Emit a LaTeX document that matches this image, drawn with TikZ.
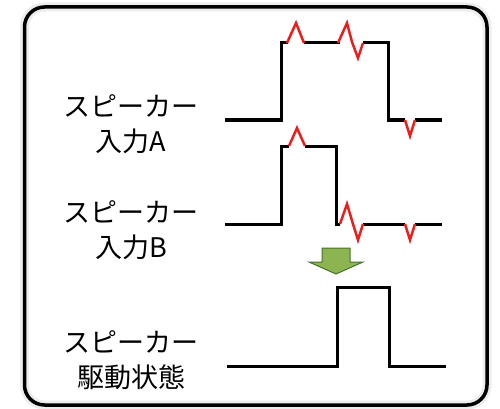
\documentclass[tikz,border=0pt]{standalone}
\usepackage{fontspec}
\newfontfamily\jpfont{Noto Sans CJK JP}
\definecolor{arrowfill}{RGB}{140,180,80}
\definecolor{arrowedge}{RGB}{70,115,45}
\definecolor{glitch}{RGB}{235,30,30}
\tikzset{
  label/.style={font=\jpfont\fontsize{27}{35}\selectfont, align=center, inner sep=0pt},
  wave/.style={line width=3pt, black, line join=miter},
  spike/.style={line width=2.5pt, glitch, line join=miter},
  frame/.style={line width=3.5pt, rounded corners=20pt},
  glow/.style={line width=9pt, rounded corners=20pt, black!7},
  downarrow/.style={fill=arrowfill, draw=arrowedge, line width=1pt}
}
\begin{document}
\begin{tikzpicture}[x=1pt,y=-1pt]
\useasboundingbox (0,0) rectangle (500,409);
\fill[white] (0,0) rectangle (500,409);
% frame with soft shadow
\draw[glow] (24.5,7) rectangle (487,405);
\draw[frame] (24.5,7) rectangle (487,405);

% labels
\node[label] (la) at (131,124.5) {スピーカー\\入力A};
\node[label] (lb) at (131,230) {スピーカー\\入力B};
\node[label] (lc) at (131,360.5) {スピーカー\\駆動状態};

% waveform A
\draw[wave] (225,120) -- (281,120) -- (281,43) -- (288,43);
\draw[wave] (304,43) -- (340,43);
\draw[wave] (363,43) -- (388,43) -- (388,120) -- (405,120);
\draw[wave] (415,120) -- (442,120);
\draw[spike] (287,43) -- (296,23) -- (304,43);
\draw[spike] (338,43) -- (347,23) -- (352,42) -- (358,58) -- (363,43);
\draw[spike] (405,120) -- (410,136) -- (415,120);

% waveform B
\draw[wave] (225,224) -- (281,224) -- (281,146) -- (289,146);
\draw[wave] (305,146) -- (336,146) -- (336,224) -- (340,224);
\draw[wave] (363,224) -- (405,224);
\draw[wave] (415,224) -- (442,224);
\draw[spike] (289,146) -- (297,128) -- (305,146);
\draw[spike] (340,224) -- (347,204) -- (353,224) -- (358,240) -- (363,224);
\draw[spike] (405,224) -- (410,240) -- (415,224);

% arrow
\draw[downarrow] (322,248) -- (350,248) -- (350,262) -- (363,262) -- (336,274) -- (309,262) -- (322,262) -- cycle;

% waveform C
\draw[wave] (227,366) -- (337,366) -- (337,287) -- (389,287) -- (389,366) -- (446,366);
\end{tikzpicture}
\end{document}
